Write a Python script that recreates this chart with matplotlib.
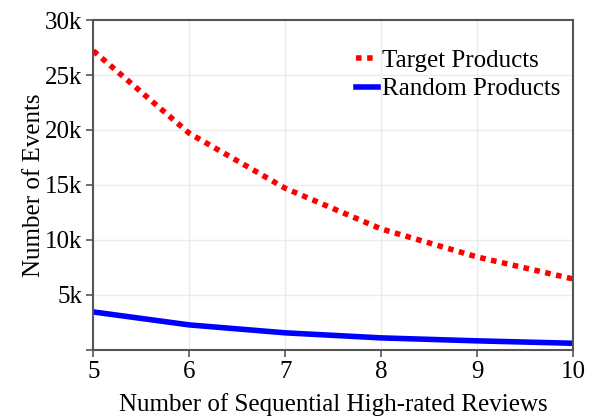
import matplotlib
matplotlib.use("Agg")
import matplotlib.pyplot as plt
from matplotlib.ticker import FuncFormatter

plt.rcParams['font.family'] = ['Liberation Serif', 'DejaVu Serif']

reviews = [5, 6, 7, 8, 9, 10]
target_events = [27200, 19700, 14700, 11000, 8450, 6450]
random_events = [3450, 2270, 1550, 1090, 820, 600]

fig, ax = plt.subplots(figsize=(6.02, 4.18), dpi=100)
fig.subplots_adjust(left=0.155, right=0.952, top=0.952, bottom=0.163)

ax.plot(reviews, target_events, color='red', linestyle=(0, (1, 1)), linewidth=4, label='Target Products')
ax.plot(reviews, random_events, color='blue', linestyle='-', linewidth=4, label='Random Products')

ax.set_xlim(5, 10)
ax.set_ylim(0, 30000)
ax.set_xticks(reviews)
ax.set_yticks([0, 5000, 10000, 15000, 20000, 25000, 30000])
ax.yaxis.set_major_formatter(FuncFormatter(lambda v, p: '' if v == 0 else f'{int(v / 1000)}k'))
ax.grid(True, color='#ebebeb', linewidth=1)
ax.set_axisbelow(True)
for s in ax.spines.values():
    s.set_color('#555555')
    s.set_linewidth(1.5)
ax.tick_params(colors='#555555', labelcolor='black', labelsize=18, width=1.2, length=5, pad=3)

ax.set_xlabel('Number of Sequential High-rated Reviews', fontsize=18, labelpad=7)
ax.set_ylabel('Number of Events', fontsize=18, labelpad=0)
ax.legend(loc='upper right', frameon=False, fontsize=18, handlelength=0.9, handletextpad=0.15,
          borderaxespad=0.3, labelspacing=0.25, bbox_to_anchor=(1.01, 0.965))

fig.savefig('out.png', dpi=100)
